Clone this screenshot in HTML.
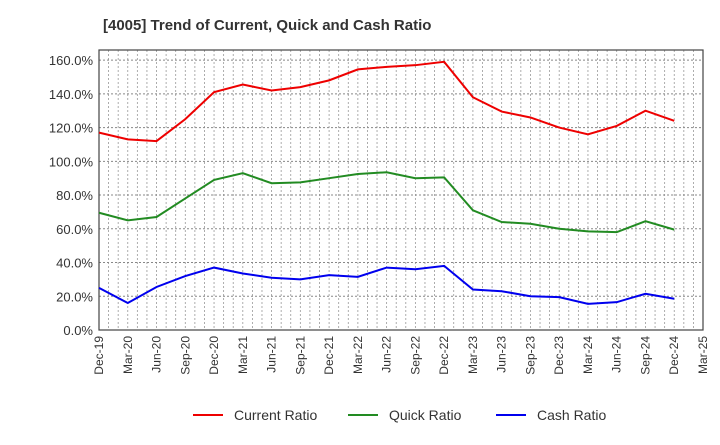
<!DOCTYPE html>
<html><head><meta charset="utf-8"><style>
body{margin:0;background:#fff;font-family:"Liberation Sans",sans-serif}
</style></head><body>
<svg id="c" width="720" height="440" xmlns="http://www.w3.org/2000/svg">
<text x="103" y="30" font-size="15" font-weight="bold" fill="#333">[4005]  Trend of Current, Quick and Cash Ratio</text>
</svg>
<script>
const categories=["Dec-19","Mar-20","Jun-20","Sep-20","Dec-20","Mar-21","Jun-21","Sep-21","Dec-21","Mar-22","Jun-22","Sep-22","Dec-22","Mar-23","Jun-23","Sep-23","Dec-23","Mar-24","Jun-24","Sep-24","Dec-24","Mar-25"];
const currentRatio=[117,113,112,125,141,145.5,142,144,148,154.5,156,157,159,138,129.5,126,120,116,121,130,124];
const quickRatio=[69.5,65,67,78,89,93,87,87.5,90,92.5,93.5,90,90.5,71,64,63,60,58.5,58,64.5,59.5];
const cashRatio=[25,16,25.5,32,37,33.5,31,30,32.5,31.5,37,36,38,24,23,20,19.5,15.5,16.5,21.5,18.5];
const yTicks=[0,20,40,60,80,100,120,140,160];
const NS="http://www.w3.org/2000/svg",svg=document.getElementById('c');
const L=99,R=703,T=50,B=330,YMAX=166;
const xs=i=>L+(R-L)*i/(categories.length-1);
const ys=v=>B-(B-T)*v/YMAX;
function mk(t,a,p){const e=document.createElementNS(NS,t);for(const k in a)e.setAttribute(k,a[k]);(p||svg).appendChild(e);return e;}
const g=mk('g',{});


for(let m=1;m<(categories.length-1)*3;m++){const x=L+(R-L)*m/((categories.length-1)*3);
 const l=mk('line',{x1:x,x2:x,y1:T,y2:B,stroke:'#999','stroke-dasharray':'2,2','stroke-width':0.8},g);
 
 }
yTicks.forEach(v=>{const y=ys(v);
 const l=mk('line',{x1:L,x2:R,y1:y,y2:y,stroke:'#888','stroke-dasharray':'2,2','stroke-width':1},g);
 
 
 const t=mk('text',{x:L-6,y:y+5,'text-anchor':'end','font-size':13,fill:'#333'});t.textContent=v.toFixed(1)+'%';
 
 });
const ax=mk('rect',{x:L,y:T,width:R-L,height:B-T,fill:'none',stroke:'#444','stroke-width':1.2});


categories.forEach((c,i)=>{const x=xs(i);
 const t=mk('text',{x:0,y:0,'text-anchor':'end','font-size':12,fill:'#333',transform:`translate(${x+4},${B+6}) rotate(-90)`});t.textContent=c;
 
 });
function series(d,col,name){const p=mk('polyline',{points:d.map((v,i)=>xs(i)+','+ys(v)).join(' '),fill:'none',stroke:col,'stroke-width':2});
 
 }
series(currentRatio,'#ee0000','current-ratio-line');
series(quickRatio,'#228B22','quick-ratio-line');
series(cashRatio,'#0000ee','cash-ratio-line');
[["Current Ratio",'#ee0000',193],["Quick Ratio",'#228B22',348],["Cash Ratio",'#0000ee',496]].forEach(([n,c,x])=>{
 const lg=mk('g',{});
 
 
 mk('line',{x1:x,x2:x+30,y1:415,y2:415,stroke:c,'stroke-width':2},lg);
 const t=mk('text',{x:x+41,y:420,'font-size':14,fill:'#333'},lg);t.textContent=n;});
</script>
</body></html>
